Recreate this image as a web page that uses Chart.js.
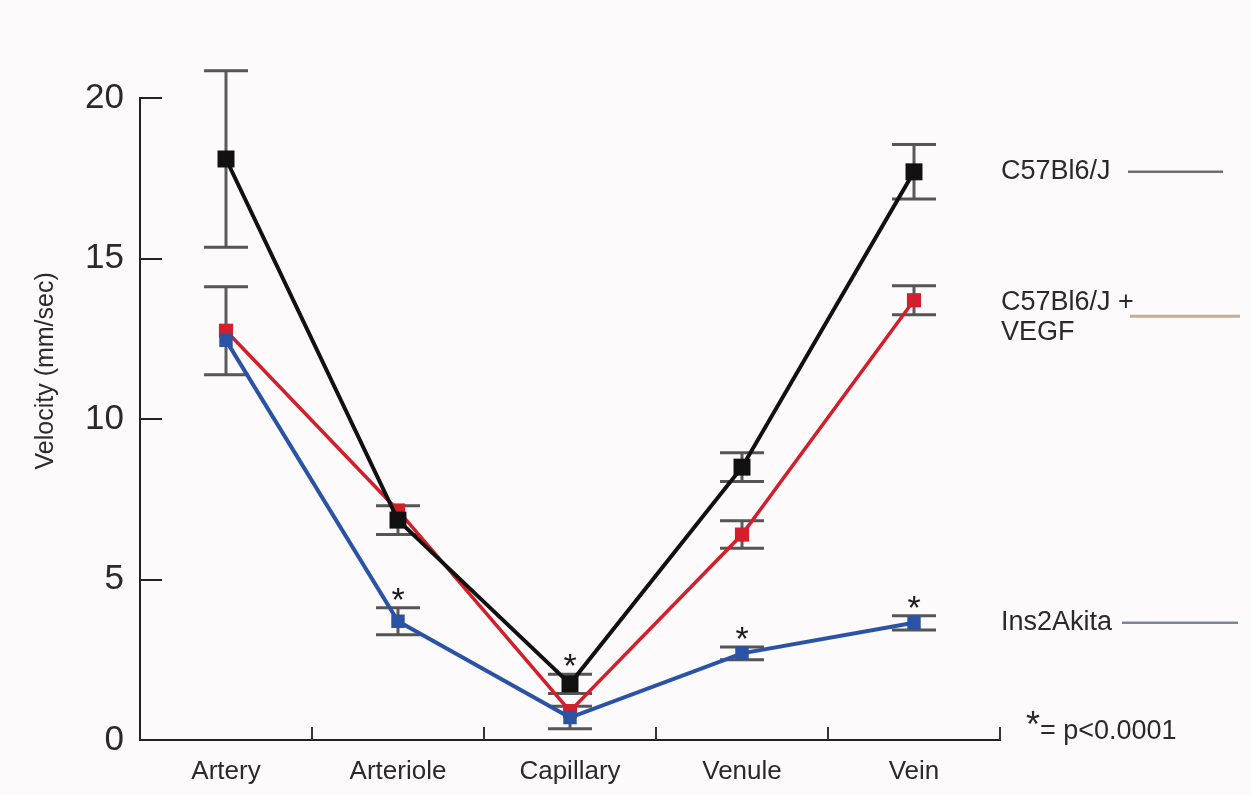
<!DOCTYPE html>
<html>
<head>
<meta charset="utf-8">
<script src="https://cdn.jsdelivr.net/npm/chart.js@4.4.1/dist/chart.umd.min.js"></script>
<style>
  html, body { margin: 0; padding: 0; background: #fcfafa; }
  #wrap { width: 1251px; height: 795px; }
</style>
</head>
<body>
<div id="wrap"><canvas id="c" width="1251" height="795"></canvas></div>
<script>
// ---- data ----
const categories = ['Artery', 'Arteriole', 'Capillary', 'Venule', 'Vein'];
const seriesNames = ['C57Bl6/J', 'C57Bl6/J +\nVEGF', 'Ins2Akita'];
const c57Values  = [18.1, 6.85, 1.75, 8.5, 17.7];
const c57Err     = [2.75, 0.45, 0.3, 0.45, 0.85];
const vegfValues = [12.75, 7.15, 0.9, 6.4, 13.7];
const vegfErr    = [1.37, 0, 0, 0.43, 0.45];
const akitaValues = [12.45, 3.7, 0.7, 2.7, 3.65];
const akitaErr    = [0, 0.42, 0.35, 0.2, 0.22];
const yTicks = [0, 5, 10, 15, 20];
// significance markers: [dataset index, category index]
const starMarks = [[2, 1], [0, 2], [2, 3], [2, 4]];
const footnote = '= p<0.0001';
const yTitle = 'Velocity (mm/sec)';

const FONT = '"Liberation Sans", Arial, Helvetica, sans-serif';
const errs = [c57Err, vegfErr, akitaErr];

const bgPlugin = {
  id: 'bg',
  beforeDraw(chart) {
    const ctx = chart.ctx;
    ctx.save();
    ctx.fillStyle = '#fcfafa';
    ctx.fillRect(0, 0, chart.width, chart.height);
    ctx.restore();
  }
};

const axisExtras = {
  id: 'axisExtras',
  afterDraw(chart) {
    const ctx = chart.ctx;
    const x = chart.scales.x, y = chart.scales.y;
    ctx.save();
    ctx.strokeStyle = '#222';
    ctx.lineWidth = 2;
    // inward y ticks
    yTicks.forEach(v => {
      if (v === 0) return;
      const py = Math.round(y.getPixelForValue(v));
      ctx.beginPath();
      ctx.moveTo(x.left, py);
      ctx.lineTo(x.left + 22, py);
      ctx.stroke();
    });
    // inward x ticks at category boundaries
    const n = categories.length;
    const step = (x.right - x.left) / n;
    ctx.strokeStyle = '#333';
    for (let i = 1; i <= n; i++) {
      const px = Math.round(x.left + i * step);
      ctx.beginPath();
      ctx.moveTo(px, y.bottom);
      ctx.lineTo(px, y.bottom - 13);
      ctx.stroke();
    }
    // y title
    ctx.fillStyle = '#2a2a2a';
    ctx.font = '25px ' + FONT;
    ctx.textAlign = 'center';
    ctx.textBaseline = 'middle';
    ctx.translate(46, y.getPixelForValue(11.5));
    ctx.rotate(-Math.PI / 2);
    ctx.fillText(yTitle, 0, 0);
    ctx.restore();
  }
};

const errorBars = {
  id: 'errorBars',
  beforeDatasetsDraw(chart) {
    const ctx = chart.ctx;
    const y = chart.scales.y;
    ctx.save();
    chart.data.datasets.forEach((ds, di) => {
      const meta = chart.getDatasetMeta(di);
      meta.data.forEach((pt, i) => {
        const v = ds.data[i], e = errs[di][i];
        if (!e) return;
        const top = y.getPixelForValue(v + e);
        const bot = y.getPixelForValue(v - e);
        ctx.strokeStyle = '#5a5a5a';
        ctx.lineWidth = 3;
        ctx.beginPath();
        ctx.moveTo(pt.x, top); ctx.lineTo(pt.x, bot);
        ctx.stroke();
        ctx.strokeStyle = '#555';
        ctx.lineWidth = 3;
        ctx.beginPath();
        ctx.moveTo(pt.x - 22, top); ctx.lineTo(pt.x + 22, top);
        ctx.moveTo(pt.x - 22, bot); ctx.lineTo(pt.x + 22, bot);
        ctx.stroke();
      });
    });
    ctx.restore();
  },
  afterDatasetsDraw(chart) {
    const ctx = chart.ctx;
    const y = chart.scales.y;
    ctx.save();
    ctx.fillStyle = '#1a1a1a';
    ctx.font = '34px ' + FONT;
    ctx.textAlign = 'center';
    ctx.textBaseline = 'alphabetic';
    starMarks.forEach(([di, i]) => {
      const pt = chart.getDatasetMeta(di).data[i];
      const ds = chart.data.datasets[di];
      const top = y.getPixelForValue(ds.data[i] + errs[di][i]);
      ctx.fillText('*', pt.x, top + 3);
    });
    ctx.restore();
  }
};

const legendPlugin = {
  id: 'sideLegend',
  afterDraw(chart) {
    const ctx = chart.ctx;
    const x = chart.scales.x, y = chart.scales.y;
    const lx = x.right + 1;
    ctx.save();
    ctx.font = '27px ' + FONT;
    ctx.fillStyle = '#2a2a2a';
    ctx.textAlign = 'left';
    ctx.textBaseline = 'middle';
    // C57Bl6/J
    const y1 = y.getPixelForValue(17.7);
    ctx.fillText(seriesNames[0], lx, y1);
    ctx.strokeStyle = '#6e6e6e'; ctx.lineWidth = 2.5;
    ctx.beginPath(); ctx.moveTo(lx + 127, y1); ctx.lineTo(lx + 222, y1); ctx.stroke();
    // VEGF
    const y2 = y.getPixelForValue(13.7);
    const parts = seriesNames[1].split('\n');
    ctx.fillText(parts[0], lx, y2 + 2);
    ctx.fillText(parts[1], lx, y2 + 32);
    ctx.strokeStyle = '#c9aa94'; ctx.lineWidth = 3;
    ctx.beginPath(); ctx.moveTo(lx + 129, y2 + 16); ctx.lineTo(lx + 239, y2 + 16); ctx.stroke();
    // Ins2Akita
    const y3 = y.getPixelForValue(3.65);
    ctx.fillText(seriesNames[2], lx, y3);
    ctx.strokeStyle = '#7d84a4'; ctx.lineWidth = 2.5;
    ctx.beginPath(); ctx.moveTo(lx + 121, y3); ctx.lineTo(lx + 237, y3); ctx.stroke();
    // footnote
    ctx.font = '36px ' + FONT;
    ctx.textAlign = 'center';
    ctx.textBaseline = 'alphabetic';
    ctx.fillText('*', lx + 32, y.bottom - 3);
    ctx.font = '27px ' + FONT;
    ctx.textAlign = 'left';
    ctx.textBaseline = 'middle';
    ctx.fillText(footnote, lx + 39, y.bottom - 8);
    ctx.restore();
  }
};

new Chart(document.getElementById('c'), {
  type: 'line',
  data: {
    labels: categories,
    datasets: [
      {
        label: 'C57Bl6/J', data: c57Values, order: 2,
        borderColor: '#111', backgroundColor: '#111', borderWidth: 4,
        pointStyle: 'rect', pointRadius: 12, pointBorderWidth: 0, tension: 0
      },
      {
        label: 'C57Bl6/J + VEGF', data: vegfValues, order: 3,
        borderColor: '#d21f2c', backgroundColor: '#d21f2c', borderWidth: 3.5,
        pointStyle: 'rect', pointRadius: 10, pointBorderWidth: 0, tension: 0
      },
      {
        label: 'Ins2Akita', data: akitaValues, order: 1,
        borderColor: '#2a53a6', backgroundColor: '#2a53a6', borderWidth: 4,
        pointStyle: 'rect', pointRadius: 9.5, pointBorderWidth: 0, tension: 0
      }
    ]
  },
  options: {
    responsive: false,
    animation: false,
    layout: { padding: { left: 0, right: 251, top: 98, bottom: 0 } },
    plugins: { legend: { display: false }, tooltip: { enabled: false } },
    scales: {
      x: {
        type: 'category', offset: true,
        grid: { display: false, drawTicks: false },
        border: { display: true, color: '#222', width: 2 },
        ticks: { color: '#2a2a2a', font: { family: FONT, size: 26 }, padding: 16, maxRotation: 0, autoSkip: false },
        afterFit(s) { s.height = 55; }
      },
      y: {
        min: 0, max: 20,
        afterBuildTicks(s) { s.ticks = yTicks.map(v => ({ value: v })); },
        grid: { display: false, drawTicks: false },
        border: { display: true, color: '#222', width: 2 },
        ticks: { color: '#2a2a2a', font: { family: FONT, size: 35 }, padding: 16 },
        afterFit(s) { s.width = 140; }
      }
    }
  },
  plugins: [bgPlugin, errorBars, axisExtras, legendPlugin]
});
</script>
</body>
</html>
